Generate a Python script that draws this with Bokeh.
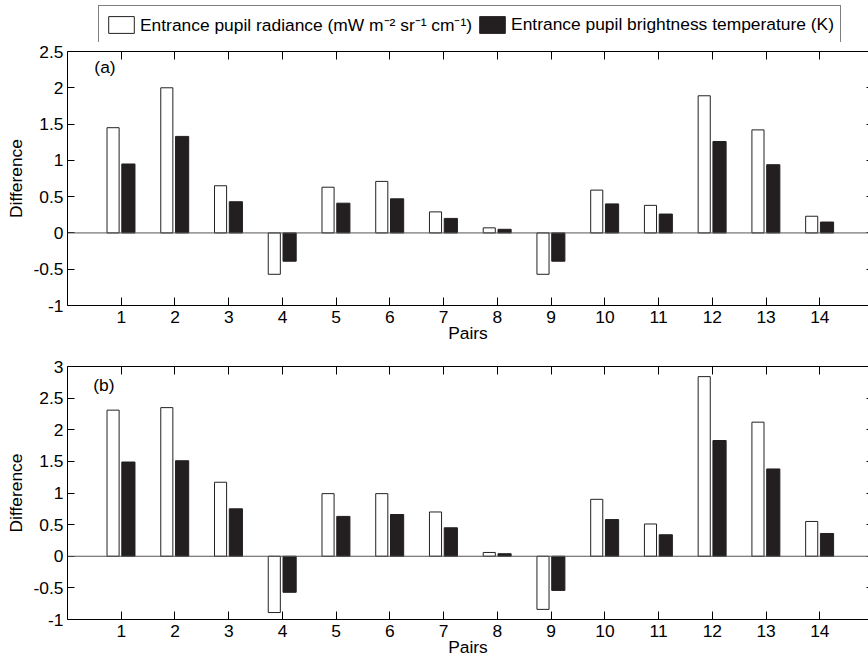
from bokeh.plotting import figure
from bokeh.layouts import column
from bokeh.models import (ColumnDataSource, Range1d, LinearAxis, FixedTicker, NumeralTickFormatter,
                          Span, Label, Legend, LegendItem, CustomLabelingPolicy, CustomJSTickFormatter)
from bokeh.transform import dodge
from bokeh.embed import file_html
from bokeh.resources import INLINE

# ---- data ----
pairs = [1, 2, 3, 4, 5, 6, 7, 8, 9, 10, 11, 12, 13, 14]
radiance_a = [1.45, 2.00, 0.65, -0.57, 0.63, 0.71, 0.29, 0.07, -0.57, 0.59, 0.38, 1.89, 1.42, 0.23]
bt_a = [0.95, 1.33, 0.43, -0.39, 0.41, 0.47, 0.20, 0.05, -0.39, 0.40, 0.26, 1.26, 0.94, 0.15]
radiance_b = [2.31, 2.35, 1.17, -0.89, 0.99, 0.99, 0.70, 0.06, -0.84, 0.90, 0.51, 2.84, 2.12, 0.55]
bt_b = [1.49, 1.51, 0.75, -0.57, 0.63, 0.66, 0.45, 0.04, -0.54, 0.58, 0.34, 1.83, 1.38, 0.36]
y_ticks_a = [-1, -0.5, 0, 0.5, 1, 1.5, 2, 2.5]
y_ticks_b = [-1, -0.5, 0, 0.5, 1, 1.5, 2, 2.5, 3]
label_rad = "Entrance pupil radiance (mW m\u207b\u00b2 sr\u207b\u00b9 cm\u207b\u00b9)"
label_bt = "Entrance pupil brightness temperature (K)"

FONT = "Liberation Sans"
FS = "17.4px"
DARK = "#231f20"
WHITE_STYLE = dict(fill_color="white", line_color="#222222", line_width=1)
DARK_STYLE = dict(fill_color=DARK, line_color=DARK, line_width=1)
W_OFF, W_WID = -0.152, 0.225
D_OFF, D_WID = 0.133, 0.245


def tick_only_axis(ticks, tick_len, line_color):
    return LinearAxis(ticker=FixedTicker(ticks=ticks),
                      formatter=CustomJSTickFormatter(code="return ''"),
                      major_label_policy=CustomLabelingPolicy(code="return []"),
                      major_label_text_font_size="1px",
                      major_label_standoff=0, major_tick_in=tick_len, major_tick_out=0,
                      minor_tick_in=0, minor_tick_out=0, axis_line_color=line_color,
                      major_tick_line_color="black")


def make_panel(src, yr, yticks, tag, height, top, bottom, tag_y, tag_x):
    p = figure(width=868, height=height,
               x_range=Range1d(0, 14.905), y_range=Range1d(*yr),
               output_backend="svg", toolbar_location=None,
               x_axis_type=None, y_axis_type=None,
               min_border_left=67, min_border_right=0, min_border_top=top, min_border_bottom=bottom)
    p.outline_line_color = None
    p.grid.visible = False
    p.background_fill_color = "white"

    p.add_layout(Span(location=0, dimension="width", line_color="#555555", line_width=1))

    p.vbar(x=dodge("pair", W_OFF), top="rad", bottom=0, width=W_WID, source=src, **WHITE_STYLE)
    p.vbar(x=dodge("pair", D_OFF), top="bt", bottom=0, width=D_WID, source=src, **DARK_STYLE)

    xb = LinearAxis(ticker=FixedTicker(ticks=pairs), axis_label="Pairs",
                    major_tick_in=8, major_tick_out=0, minor_tick_in=0, minor_tick_out=0,
                    major_label_standoff=5, axis_label_standoff=-3,
                    major_label_text_font=FONT, major_label_text_font_size=FS,
                    axis_label_text_font=FONT, axis_label_text_font_size=FS,
                    axis_label_text_font_style="normal", axis_line_color="black",
                    major_tick_line_color="black", major_label_text_color="black",
                    axis_label_text_color="black")
    p.add_layout(xb, "below")

    yl = LinearAxis(ticker=FixedTicker(ticks=yticks), axis_label="Difference",
                    formatter=NumeralTickFormatter(format="0.[0]"),
                    major_tick_in=7, major_tick_out=0, minor_tick_in=0, minor_tick_out=0,
                    major_label_standoff=4, axis_label_standoff=5,
                    major_label_text_font=FONT, major_label_text_font_size=FS,
                    axis_label_text_font=FONT, axis_label_text_font_size=FS,
                    axis_label_text_font_style="normal", axis_line_color="black",
                    major_tick_line_color="black", major_label_text_color="black",
                    axis_label_text_color="black")
    p.add_layout(yl, "left")

    p.add_layout(tick_only_axis(pairs, 8, "black"), "above")
    p.add_layout(tick_only_axis(yticks, 2, None), "right")

    p.add_layout(Label(x=tag_x, y=tag_y, text=tag, text_font=FONT, text_font_size=FS,
                       text_baseline="middle", text_align="left", text_color="black"))
    return p


src_a = ColumnDataSource(dict(pair=pairs, rad=radiance_a, bt=bt_a))
src_b = ColumnDataSource(dict(pair=pairs, rad=radiance_b, bt=bt_b))

# legend strip above the two panels (its renderers are hidden; only the legend shows)
pl = figure(width=868, height=42, x_range=Range1d(0, 14.905), y_range=Range1d(-1, 2.5),
            output_backend="svg", toolbar_location=None, x_axis_type=None, y_axis_type=None,
            min_border=0, min_border_left=67)
pl.outline_line_color = None
pl.grid.visible = False
lr1 = pl.vbar(x=dodge("pair", W_OFF), top="rad", bottom=0, width=W_WID, source=src_a,
              visible=False, **WHITE_STYLE)
lr2 = pl.vbar(x=dodge("pair", D_OFF), top="bt", bottom=0, width=D_WID, source=src_a,
              visible=False, **DARK_STYLE)
leg = Legend(items=[LegendItem(label=label_rad, renderers=[lr1]),
                    LegendItem(label=label_bt, renderers=[lr2])],
             orientation="horizontal", location=(31, -1),
             glyph_width=32, glyph_height=21, label_standoff=3, spacing=4,
             padding=6, margin=0, label_text_font=FONT, label_text_font_size=FS,
             label_text_color="black", border_line_color="black", border_line_width=1,
             background_fill_color="white", background_fill_alpha=1.0,
             inactive_fill_alpha=0.0)
pl.add_layout(leg, "center")

p1 = make_panel(src_a, (-1, 2.5), y_ticks_a, "(a)", 303, 9, 40, 2.28, 0.50)
p2 = make_panel(src_b, (-1, 3), y_ticks_b, "(b)", 314, 21, 39, 2.70, 0.48)

layout = column(pl, p1, p2, spacing=0)
open("out.html", "w").write(file_html(layout, INLINE))
